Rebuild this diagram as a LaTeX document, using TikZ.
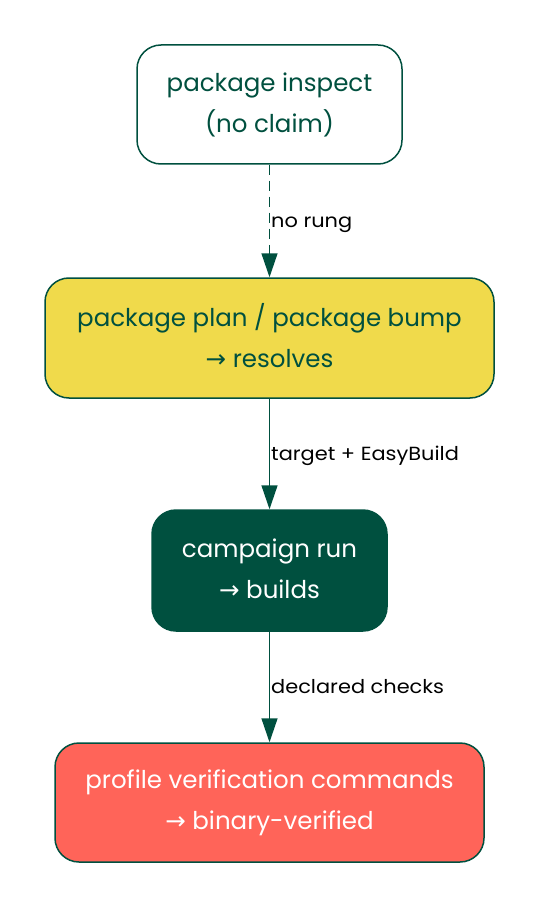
\documentclass[tikz,border=0pt]{standalone}
\usepackage{fontspec}
\setmainfont{Poppins}
\newfontfamily\symf{DejaVu Sans}
\newfontfamily\lblf[FakeStretch=1.1]{Poppins}
\usetikzlibrary{arrows.meta}
\definecolor{dgreen}{HTML}{00503F}
\definecolor{yel}{HTML}{F0DA4B}
\definecolor{salmon}{HTML}{FF6459}
\newcommand\ra{{\symf →}}
\newcommand\sta{\rule{0pt}{20pt}}
\newcommand\stb{\rule[-4.6pt]{0pt}{0pt}}
\tikzset{
  box/.style={draw=dgreen, line width=1.5pt, rounded corners=24pt, align=center,
    inner sep=0pt, font=\fontsize{24.5}{41}\selectfont},
  edge/.style={draw=dgreen, line width=1.5pt, -{Triangle[length=24pt,width=16pt]}},
  lbl/.style={anchor=base west, inner sep=0pt, font=\lblf\fontsize{19}{20}\selectfont, text=black}
}
\begin{document}
\begin{tikzpicture}[x=1pt,y=-1pt]
\useasboundingbox (0,0) rectangle (539,909);
\node[box, fill=white, text=dgreen, minimum width=265pt, minimum height=119pt] (n1) at (269.5,104.5) {\sta package inspect\\(no claim)\stb};
\node[box, fill=yel, text=dgreen, minimum width=449pt, minimum height=120pt] (n2) at (269.5,338) {\sta package plan / package bump\\\ra\ resolves\stb};
\node[box, fill=dgreen, text=white, minimum width=235pt, minimum height=121pt] (n3) at (269.5,570.5) {\sta campaign run\\\ra\ builds\stb};
\node[box, fill=salmon, text=white, minimum width=429pt, minimum height=119pt] (n4) at (269.5,802.5) {\sta profile verification commands\\\ra\ binary-verified\stb};
\draw[edge, dash pattern=on 10pt off 6pt] (n1) -- (n2);
\draw[edge] (n2) -- (n3);
\draw[edge] (n3) -- (n4);
\node[lbl] (l1) at (271,227) {no rung};
\node[lbl] (l2) at (271,460) {target + EasyBuild};
\node[lbl] (l3) at (271,693) {declared checks};
\end{tikzpicture}
\end{document}
